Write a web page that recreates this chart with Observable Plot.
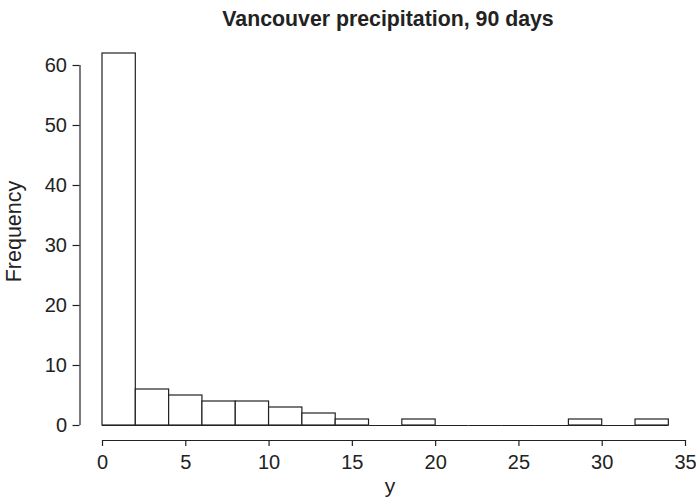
<!DOCTYPE html>
<html>
<head>
<meta charset="utf-8">
<script src="https://cdn.jsdelivr.net/npm/d3@7"></script>
<script src="https://cdn.jsdelivr.net/npm/@observablehq/plot@0.6"></script>
<style>
  html, body { margin: 0; padding: 0; background: #fff; }
  svg { display: block; }
</style>
</head>
<body>
<div id="chart"></div>
<script>
const titleText = "Vancouver precipitation, 90 days";
const xLabel = "y";
const yLabel = "Frequency";
const binLeft  = [0, 2, 4, 6, 8, 10, 12, 14, 16, 18, 20, 22, 24, 26, 28, 30, 32];
const binRight = [2, 4, 6, 8, 10, 12, 14, 16, 18, 20, 22, 24, 26, 28, 30, 32, 34];
const counts   = [62, 6, 5, 4, 4, 3, 2, 1, 0, 1, 0, 0, 0, 0, 1, 0, 1];
const xTicks = [0, 5, 10, 15, 20, 25, 30, 35];
const yTicks = [0, 10, 20, 30, 40, 50, 60];

const bins = binLeft.map((l, i) => ({x1: l, x2: binRight[i], count: counts[i]}));
const ink = "#222";

const chart = Plot.plot({
  width: 696,
  height: 503,
  marginLeft: 102,
  marginRight: 11,
  marginTop: 53,
  marginBottom: 78,
  style: {fontFamily: "'Liberation Sans', Arial, Helvetica, sans-serif", color: ink, background: "#fff"},
  x: {domain: [0, 35], axis: null},
  y: {domain: [0, 62], axis: null},
  marks: [
    Plot.rectY(bins.filter(d => d.count > 0), {x1: "x1", x2: "x2", y1: 0, y2: "count", fill: "white", stroke: ink, strokeWidth: 1.2}),
    // bottom outline of every bin (zero-height bins show as a line)
    Plot.ruleY(bins, {x1: "x1", x2: "x2", y: 0, stroke: ink, strokeWidth: 1.2}),
    // y axis
    Plot.ruleX([0], {y1: d3.min(yTicks), y2: d3.max(yTicks), dx: -22.5, stroke: ink, strokeWidth: 1.2}),
    Plot.axisY(yTicks, {anchor: "left", tickSize: 7, tickPadding: 6, dx: -22.5, fontSize: 20, stroke: ink, strokeWidth: 1.2, fill: ink, label: null}),
    // x axis
    Plot.ruleY([0], {x1: d3.min(xTicks), x2: d3.max(xTicks), dy: 15, stroke: ink, strokeWidth: 1.2}),
    Plot.axisX(xTicks, {anchor: "bottom", tickSize: 6, tickPadding: 8, dy: 15, fontSize: 20, stroke: ink, strokeWidth: 1.2, fill: ink, label: null}),
    // labels
    Plot.text([titleText], {frameAnchor: "top", lineAnchor: "bottom", textAnchor: "middle", dx: -6, dy: -28, fontSize: 21.3, fontWeight: "bold", fill: ink}),
    Plot.text([xLabel], {frameAnchor: "bottom", lineAnchor: "bottom", textAnchor: "middle", dx: -4, dy: 67, fontSize: 21, fill: ink}),
    Plot.text([yLabel], {frameAnchor: "left", lineAnchor: "bottom", textAnchor: "middle", rotate: -90, dx: -82, dy: -8, fontSize: 21.5, fill: ink})
  ]
});
document.getElementById("chart").appendChild(chart);
</script>
</body>
</html>
